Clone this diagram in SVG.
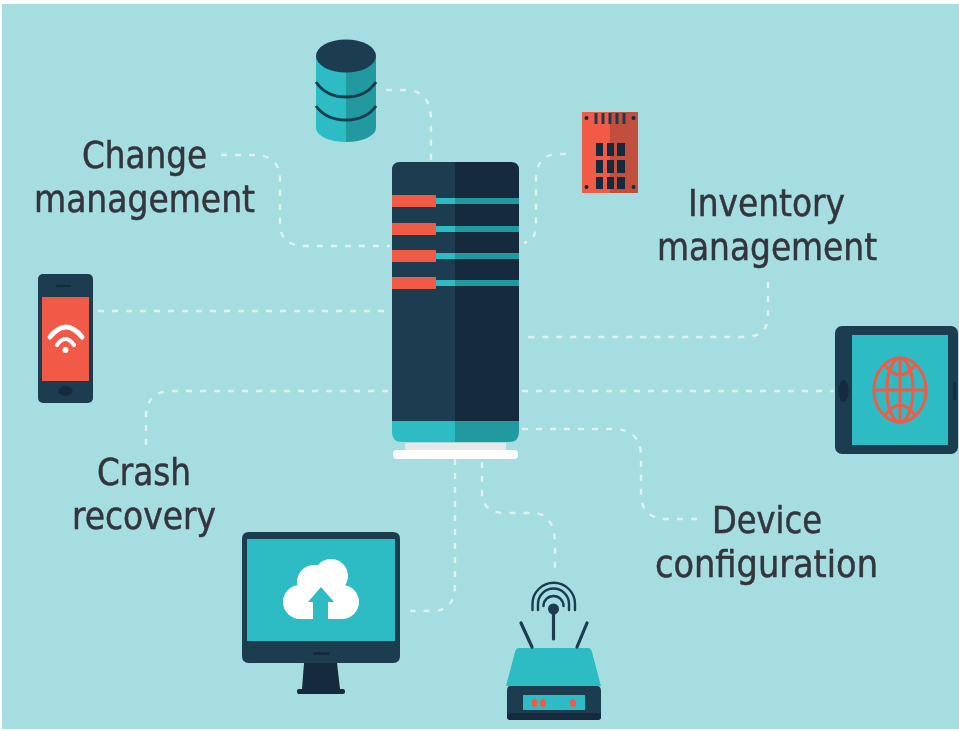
<svg xmlns="http://www.w3.org/2000/svg" width="959" height="731" viewBox="0 0 959 731">
<defs>
<style>
.d{fill:#1a3c50}.k{fill:#122c3c}.t{fill:#2dbcc4}.td{fill:#23999f}.r{fill:#f05a47}.w{fill:#fff}
.c{fill:none;stroke:#dff1f1;stroke-width:2.400;stroke-dasharray:6 8}
.l{font-family:"DejaVu Sans Condensed","DejaVu Sans","Liberation Sans",sans-serif;font-size:37.500px;fill:#33363c;stroke:#33363c;stroke-width:.5;text-anchor:start}
.s{fill:none;stroke:#1a3c50;stroke-width:3}
.sr{fill:none;stroke:#f05a47;stroke-width:3}
.wf{fill:none;stroke:#fff;stroke-linecap:round}
</style>
<filter id="b" x="-5%" y="-5%" width="110%" height="110%"><feGaussianBlur stdDeviation="0.7"/></filter>
</defs>
<rect width="959" height="731" fill="#fff"/>
<rect x="2" y="4" width="957" height="725" fill="#a6dde0"/>
<g filter="url(#b)">
<g id="connectors">
<path class="c" d="M386 90H408Q431 92 431 120V162"/>
<path class="c" d="M566 154H556Q536 156 536 180V225Q536 240 524 243"/>
<path class="c" d="M221 155H258Q280 157 280 180V225Q281 246 305 246H390"/>
<path class="c" d="M98 311H388"/>
<path class="c" d="M768 282V315Q768 337 745 337H522"/>
<path class="c" d="M522 391H834"/>
<path class="c" d="M146 445V415Q147 391 172 391H388"/>
<path class="c" d="M522 429H615Q640 430 641 455V495Q642 519 668 519H702"/>
<path class="c" d="M455 459V585Q455 611 432 611H410"/>
<path class="c" d="M482 462V495Q484 513 505 513H535Q555 515 555 545V568"/>
</g>
<g id="server">
<path class="d" d="M392 170Q392 162 400 162H455V421H392Z"/>
<path class="k" d="M455 162H511Q519 162 519 170V421H455Z"/>
<path class="t" d="M392 421H455V442H402Q392 442 392 432Z"/>
<path class="td" d="M455 421H519V432Q519 442 509 442H455Z"/>
<rect x="405" y="443" width="101" height="8" fill="#e8e8e8"/>
<rect x="393" y="450" width="125" height="9" rx="4" class="w"/>
<g id="bars">
<rect x="436" y="198" width="20" height="6" class="t"/><rect x="455" y="198" width="64" height="6" class="td"/><rect x="392" y="195" width="44" height="12" class="r"/>
<rect x="436" y="226" width="20" height="6" class="t"/><rect x="455" y="226" width="64" height="6" class="td"/><rect x="392" y="223" width="44" height="12" class="r"/>
<rect x="436" y="253" width="20" height="6" class="t"/><rect x="455" y="253" width="64" height="6" class="td"/><rect x="392" y="250" width="44" height="12" class="r"/>
<rect x="436" y="280" width="20" height="6" class="t"/><rect x="455" y="280" width="64" height="6" class="td"/><rect x="392" y="277" width="44" height="12" class="r"/>
</g>
</g>
<g id="database">
<path class="t" d="M316 56H346V142A30 14 0 0 1 316 128Z"/>
<path class="td" d="M346 56H376V128A30 14 0 0 1 346 142Z"/>
<path class="s" stroke-width="2.600" d="M316 82Q326 97 346 97Q366 97 376 82M316 106Q326 120 346 120Q366 120 376 106"/>
<ellipse class="d" cx="346" cy="56" rx="30" ry="16.500"/>
</g>
<g id="chip">
<rect x="582" y="112" width="56" height="81" class="r"/>
<rect x="610" y="112" width="28" height="81" fill="#c24f3c"/>
<path class="s" stroke-width="1.500" d="M596 113V124M603 113V124M610 113V124M617 113V124M624 113V124"/>
<g class="k">
<circle cx="586.500" cy="118" r="2"/><circle cx="633.500" cy="118" r="2"/><circle cx="586.500" cy="187" r="2"/><circle cx="633.500" cy="187" r="2"/>
<rect x="596" y="143" width="7" height="13"/><rect x="607" y="143" width="7" height="13"/><rect x="617" y="143" width="8" height="13"/>
<rect x="596" y="160" width="7" height="13"/><rect x="607" y="160" width="7" height="13"/><rect x="617" y="160" width="8" height="13"/>
<rect x="596" y="177" width="7" height="12"/><rect x="607" y="177" width="7" height="12"/><rect x="617" y="177" width="8" height="12"/>
</g>
</g>
<g id="phone">
<rect x="38" y="274" width="55" height="129" rx="5" class="d"/>
<rect x="42" y="297" width="47" height="84" class="r"/>
<rect x="56" y="285" width="15" height="2" class="k"/>
<ellipse cx="65.500" cy="391" rx="7" ry="5" class="k"/>
<path class="wf" stroke-width="5" d="M50 337Q66 317 82 337"/>
<path class="wf" stroke-width="4" d="M57 345Q65.500 333 74 345"/>
<circle cx="65.500" cy="350" r="3" class="w"/>
</g>
<g id="tablet">
<rect x="835" y="326" width="123" height="128" rx="7" class="d"/>
<rect x="852" y="335" width="96" height="110" class="t"/>
<ellipse cx="843.500" cy="391" rx="5" ry="11" class="k"/>
<rect x="953" y="382" width="3" height="18" class="k"/>
<g>
<ellipse class="sr" cx="900" cy="390" rx="26" ry="32"/>
<ellipse class="sr" cx="900" cy="390" rx="13" ry="32"/>
<path class="sr" d="M900 358V422M874 390H926M885 365Q900 385 915 365M885 415Q900 395 915 415"/>
</g>
</g>
<g id="monitor">
<path class="d" d="M249 532H393Q400 532 400 539V656Q400 663 393 663H249Q242 663 242 656V539Q242 532 249 532Z"/>
<rect x="247" y="539" width="148" height="102" class="t"/>
<rect x="313" y="652" width="16" height="3" class="k"/>
<path class="k" d="M304 663H337L340 689H302Z"/>
<rect x="297" y="689" width="48" height="5" rx="2" class="k"/>
<g id="cloud">
<circle class="w" cx="300" cy="602" r="17"/>
<circle class="w" cx="314" cy="582" r="17"/>
<circle class="w" cx="331" cy="576" r="17"/>
<circle class="w" cx="342" cy="602" r="17"/>
<path class="w" d="M300 619H342V585H310Z"/>
<path class="t" d="M321 587L334 602H328V620H313V602H308Z"/>
</g>
</g>
<g id="router">
<path class="t" d="M519 648H588Q591 648 592 652L601 686H506L515 652Q516 648 519 648Z"/>
<path class="d" d="M510 686H597Q601 686 601 691V716Q601 720 597 720H511Q507 720 507 716V691Q507 686 510 686Z"/>
<rect x="507" y="713" width="94" height="7" rx="3" class="k"/>
<rect x="523" y="695" width="62" height="15" class="t"/>
<g class="r"><ellipse cx="534.500" cy="703" rx="3" ry="4"/><ellipse cx="543" cy="703" rx="3" ry="4"/><ellipse cx="573" cy="703" rx="3" ry="4"/></g>
<g class="s" stroke-linecap="round">
<path stroke-width="3.200" d="M553.500 612V639M521 623L532 647M587 623L577 647"/>
<path stroke-width="2.400" d="M532.500 610V604A21 21 0 0 1 575 604V610M538 610V604A15.500 15.500 0 0 1 569 604V610M543.500 606A10 10 0 0 1 563.500 606"/>
</g>
<circle cx="553.500" cy="609" r="5.500" class="d"/>
</g>
<g id="labels">
<text class="l" x="82" y="168" textLength="125" lengthAdjust="spacingAndGlyphs">Change</text>
<text class="l" x="34" y="212" textLength="221" lengthAdjust="spacingAndGlyphs">management</text>
<text class="l" x="688" y="216" textLength="157" lengthAdjust="spacingAndGlyphs">Inventory</text>
<text class="l" x="657" y="260" textLength="220" lengthAdjust="spacingAndGlyphs">management</text>
<text class="l" x="97" y="485" textLength="94" lengthAdjust="spacingAndGlyphs">Crash</text>
<text class="l" x="72" y="529" textLength="144" lengthAdjust="spacingAndGlyphs">recovery</text>
<text class="l" x="712" y="533" textLength="110" lengthAdjust="spacingAndGlyphs">Device</text>
<text class="l" x="655" y="577" textLength="223" lengthAdjust="spacingAndGlyphs">configuration</text>
</g>
</g>
</svg>
